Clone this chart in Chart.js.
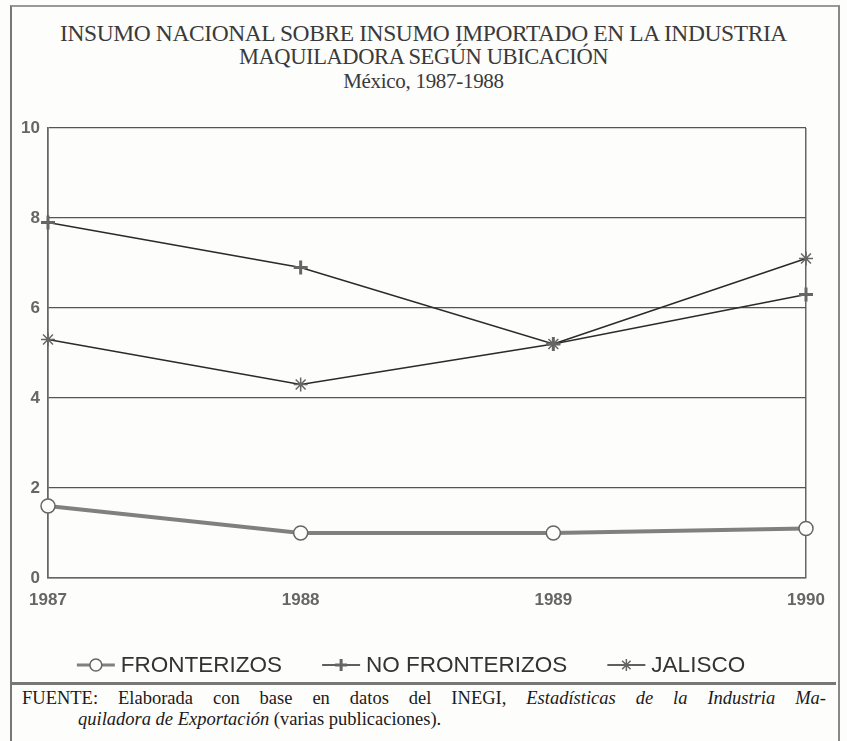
<!DOCTYPE html>
<html>
<head>
<meta charset="utf-8">
<script src="https://cdn.jsdelivr.net/npm/chart.js@4.4.1/dist/chart.umd.min.js"></script>
<style>
  body { margin: 0; background: #fdfdfb; }
  #page { position: relative; width: 847px; height: 741px; overflow: hidden; background: #fdfdfb; }
  #frame { position: absolute; left: 10px; top: 5px; width: 826px; height: 740px;
           border-left: 2px solid #777; border-right: 2px solid #888; border-top: 2px solid #999; }
  #title { position: absolute; left: 0; top: 21px; width: 847px; text-align: center;
           font-family: "Liberation Serif", "DejaVu Serif", serif; color: #3a3a3a; }
  #title .t1 { font-size: 23.5px; line-height: 24px; letter-spacing: -0.4px; }
  #title .t1.b { font-size: 22.5px; }
  #title .t2 { font-size: 21px; line-height: 25px; letter-spacing: -0.3px; }
  #chartBox { position: absolute; left: 0; top: 100px; width: 847px; height: 580px; }
  #rule { position: absolute; left: 12px; top: 682px; width: 824px; height: 0;
          border-top: 3px solid #777; }
  #source { position: absolute; left: 22px; top: 688px; width: 804px;
            font-family: "Liberation Serif", "DejaVu Serif", serif; font-size: 18.5px;
            line-height: 21px; color: #1a1a1a; }
  #source .l1 { text-align: justify; text-align-last: justify; }
  #source .l2 { padding-left: 56px; }
</style>
</head>
<body>
<div id="page">
  <div id="frame"></div>
  <div id="title">
    <div class="t1">INSUMO NACIONAL SOBRE INSUMO IMPORTADO EN LA INDUSTRIA</div>
    <div class="t1 b">MAQUILADORA SEGÚN UBICACIÓN</div>
    <div class="t2">México, 1987-1988</div>
  </div>
  <div id="chartBox"><canvas id="chart"></canvas></div>
  <div id="rule"></div>
  <div id="source">
    <div class="l1">FUENTE: Elaborada con base en datos del INEGI, <i>Estadísticas de la Industria Ma-</i></div>
    <div class="l2"><i>quiladora de Exportación</i> (varias publicaciones).</div>
  </div>
</div>
<script>
// Data
const years = ['1987', '1988', '1989', '1990'];
const fronterizos = [1.6, 1.0, 1.0, 1.1];
const noFronterizos = [7.9, 6.9, 5.2, 6.3];
const jalisco = [5.3, 4.3, 5.2, 7.1];
const yTicks = [0, 2, 4, 6, 8, 10];

const tickFont = { family: '"Liberation Sans", Arial, sans-serif', size: 17, weight: 'bold' };

// Legend drawn under the plot: short line with the marker, then the label
const legendPlugin = {
    id: 'lineLegend',
    afterDraw(chart) {
        const ctx = chart.ctx;
        const y = 565;
        const sample = 38;
        const gapText = 6;
        const gapItem = 40;
        ctx.save();
        ctx.font = '22.5px "Liberation Sans", Arial, sans-serif';
        const items = chart.data.datasets.map(ds => ({
            ds,
            w: sample + gapText + ctx.measureText(ds.label).width
        }));
        const total = items.reduce((s, it) => s + it.w, 0) + gapItem * (items.length - 1);
        let x = 411 - total / 2;
        items.forEach(it => {
            const ds = it.ds;
            ctx.strokeStyle = ds.borderColor;
            ctx.lineWidth = Math.min(ds.borderWidth, 3);
            ctx.beginPath();
            ctx.moveTo(x, y);
            ctx.lineTo(x + sample, y);
            ctx.stroke();
            ctx.fillStyle = ds.pointBackgroundColor;
            ctx.strokeStyle = ds.pointBorderColor;
            ctx.lineWidth = ds.pointBorderWidth;
            Chart.helpers.drawPoint(ctx, {
                pointStyle: ds.pointStyle,
                radius: ds.pointRadius * 0.85,
                borderWidth: ds.pointBorderWidth,
                rotation: 0
            }, x + sample / 2, y);
            ctx.fillStyle = '#333';
            ctx.textBaseline = 'middle';
            ctx.textAlign = 'left';
            ctx.fillText(ds.label, x + sample + gapText, y + 1);
            x += it.w + gapItem;
        });
        ctx.restore();
    }
};

new Chart(document.getElementById('chart'), {
    type: 'line',
    data: {
        labels: years,
        datasets: [
            {
                label: 'FRONTERIZOS',
                data: fronterizos,
                borderColor: '#808080',
                borderWidth: 4,
                pointStyle: 'circle',
                pointRadius: 7,
                pointBorderWidth: 1.5,
                pointBorderColor: '#666',
                pointBackgroundColor: '#fdfdfb',
                tension: 0
            },
            {
                label: 'NO FRONTERIZOS',
                data: noFronterizos,
                borderColor: '#2a2a2a',
                borderWidth: 1.5,
                pointStyle: 'cross',
                pointRadius: 7,
                pointBorderWidth: 3,
                pointBorderColor: '#666',
                pointBackgroundColor: '#666',
                tension: 0
            },
            {
                label: 'JALISCO',
                data: jalisco,
                borderColor: '#2a2a2a',
                borderWidth: 1.5,
                pointStyle: 'star',
                pointRadius: 7,
                pointBorderWidth: 1.5,
                pointBorderColor: '#666',
                pointBackgroundColor: '#666',
                tension: 0
            }
        ]
    },
    options: {
        responsive: true,
        maintainAspectRatio: false,
        animation: false,
        layout: { padding: { left: 0, right: 41, top: 28, bottom: 72 } },
        plugins: {
            legend: { display: false },
            tooltip: { enabled: false }
        },
        scales: {
            x: {
                offset: false,
                afterFit: scale => { scale.height = 30; },
                grid: {
                    drawTicks: false,
                    lineWidth: 1.5,
                    color: c => (c.index === 0 || c.index === years.length - 1) ? '#666' : 'rgba(0,0,0,0)'
                },
                border: { color: '#666', width: 1.5 },
                ticks: { color: '#666', font: tickFont, padding: 12, maxRotation: 0 }
            },
            y: {
                min: 0,
                max: 10,
                afterFit: scale => { scale.width = 48; },
                afterBuildTicks: scale => { scale.ticks = yTicks.map(v => ({ value: v })); },
                grid: { drawTicks: false, color: '#555', lineWidth: 1.3 },
                border: { color: '#666', width: 1.5 },
                ticks: { color: '#666', font: tickFont, padding: 8 }
            }
        }
    },
    plugins: [legendPlugin]
});
</script>
</body>
</html>
